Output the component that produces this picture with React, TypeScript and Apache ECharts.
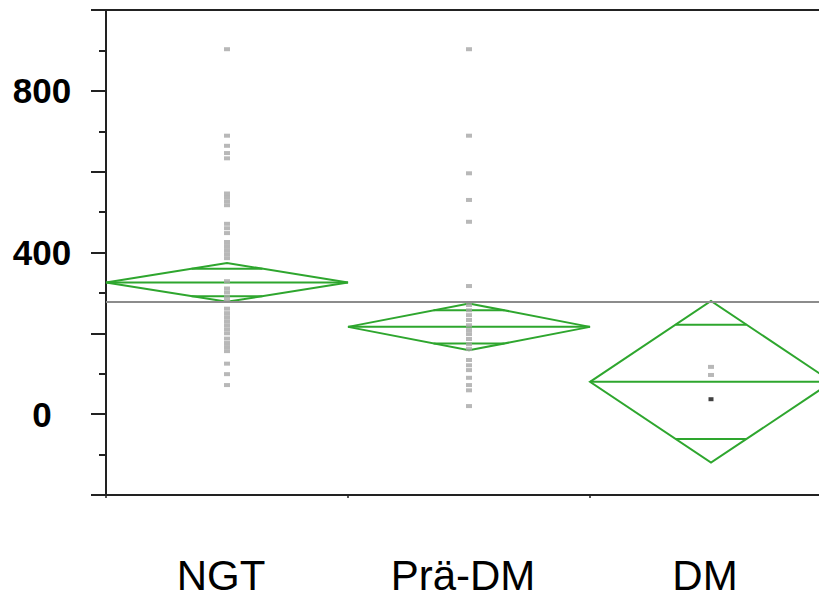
import React, { useEffect, useRef } from "react";
import * as echarts from "echarts";

const categories = ["NGT", "Prä-DM", "DM"];
const groupMeans = [326, 216, 80];
const ciHalfWidths = [48, 58, 200];
const grandMean = 278;
const yTickValues = [0, 400, 800];

const ngtValues = [
  903, 689, 664, 646, 633, 546, 537, 527, 517, 471, 460, 448, 426, 416, 406,
  396, 386, 329, 311, 301, 290, 280, 261, 250, 240, 230, 220, 210, 200, 187,
  176, 166, 156, 125, 99, 72,
];
const praeDmValues = [
  903, 689, 596, 530, 476, 317, 270, 257, 245, 233, 220, 208, 198, 186, 173,
  161, 134, 121, 109, 90, 72, 59, 20,
];
const dmValues = [117, 97];
const dmHighlighted = [37];

const GREEN = "#2ea62e";
const AXIS = "#222222";

export default function App() {
  const ref = useRef<HTMLDivElement>(null);
  useEffect(() => {
    document.body.style.margin = "0";
    if (!ref.current) return;
    const chart = echarts.init(ref.current, null, { renderer: "svg" });
    const pts = (idx: number, arr: number[]) => arr.map((v) => [idx, v]);
    const diamondData = categories.map((_, i) => [i, groupMeans[i], ciHalfWidths[i]]);
    chart.setOption({
      animation: false,
      grid: { left: 106, right: 0, top: 10, bottom: 102, containLabel: false },
      xAxis: [
        {
          type: "category",
          data: categories,
          position: "bottom",
          axisLine: { show: true, onZero: false, lineStyle: { color: AXIS, width: 2 } },
          axisTick: { show: true, length: 3, lineStyle: { color: AXIS, width: 1.5 } },
          axisLabel: {
            fontSize: 42,
            color: "#000",
            fontFamily: "Liberation Sans, Arial, sans-serif",
            margin: 59,
            padding: [0, 12, 0, 0],
          },
          splitLine: { show: false },
        },
        {
          type: "category",
          data: categories,
          position: "top",
          axisLine: { show: true, onZero: false, lineStyle: { color: AXIS, width: 2 } },
          axisTick: { show: false },
          axisLabel: { show: false },
          splitLine: { show: false },
        },
      ],
      yAxis: {
        type: "value",
        min: -200,
        max: 1000,
        interval: 200,
        axisLine: { show: true, onZero: false, lineStyle: { color: AXIS, width: 2 } },
        axisTick: { show: true, length: 15, lineStyle: { color: AXIS, width: 2 } },
        minorTick: { show: true, splitNumber: 2, length: 7, lineStyle: { color: AXIS, width: 2 } },
        splitLine: { show: false },
        minorSplitLine: { show: false },
        axisLabel: {
          formatter: (v: number) => (yTickValues.indexOf(v) >= 0 ? String(v) : ""),
          fontSize: 35,
          fontWeight: "bold",
          color: "#000",
          fontFamily: "Liberation Sans, Arial, sans-serif",
          align: "center",
          margin: 64,
        },
      },
      series: [
        {
          type: "custom",
          z: 2,
          encode: { x: 0, y: 1 },
          data: diamondData,
          renderItem: (params: any, api: any) => {
            const x = api.value(0);
            const m = api.value(1);
            const h = api.value(2);
            const c = api.coord([x, m]);
            const top = api.coord([x, m + h]);
            const bot = api.coord([x, m - h]);
            const bw = api.size([1, 0])[0];
            const hw = bw / 2;
            const k = Math.SQRT1_2;
            const dy = c[1] - top[1];
            const ovUp = c[1] - dy * k;
            const ovLow = c[1] + dy * k;
            const ch = hw * (1 - k);
            const st = { stroke: GREEN, lineWidth: 2, fill: "none" };
            return {
              type: "group",
              children: [
                {
                  type: "polygon",
                  shape: {
                    points: [
                      [c[0] - hw, c[1]],
                      [c[0], top[1]],
                      [c[0] + hw, c[1]],
                      [c[0], bot[1]],
                    ],
                  },
                  style: st,
                },
                { type: "line", shape: { x1: c[0] - hw, y1: c[1], x2: c[0] + hw, y2: c[1] }, style: st },
                { type: "line", shape: { x1: c[0] - ch, y1: ovUp, x2: c[0] + ch, y2: ovUp }, style: st },
                { type: "line", shape: { x1: c[0] - ch, y1: ovLow, x2: c[0] + ch, y2: ovLow }, style: st },
              ],
            };
          },
        },
        {
          type: "scatter",
          z: 3,
          symbol: "rect",
          symbolSize: [6, 4],
          itemStyle: { color: "#a6a6a6" },
          data: [...pts(0, ngtValues), ...pts(1, praeDmValues), ...pts(2, dmValues)],
          markLine: {
            silent: true,
            symbol: "none",
            label: { show: false },
            lineStyle: { color: "#8c8c8c", width: 2, type: "solid" },
            data: [{ yAxis: grandMean }],
          },
        },
        {
          type: "scatter",
          z: 4,
          symbol: "rect",
          symbolSize: [5, 4],
          itemStyle: { color: "#111111" },
          data: pts(2, dmHighlighted),
        },
      ],
    });
    return () => chart.dispose();
  }, []);
  return (
    <div style={{ width: 819, height: 597, overflow: "hidden", position: "relative" }}>
      <div ref={ref} style={{ width: 832, height: 597 }} />
    </div>
  );
}
